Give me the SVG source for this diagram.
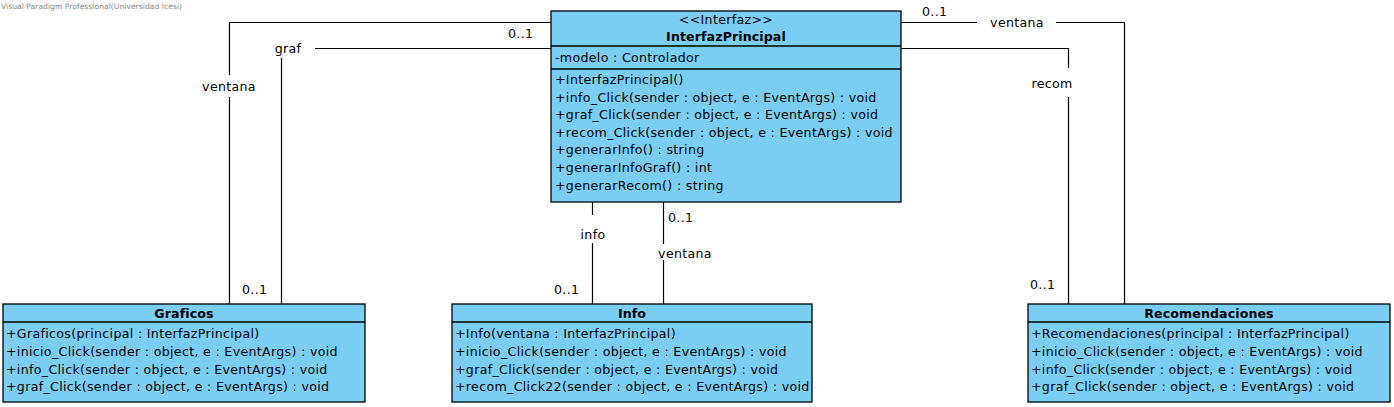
<svg xmlns="http://www.w3.org/2000/svg" width="1394" height="407" viewBox="0 0 1394 407">
<style>
.box{fill:#7ACEF4;stroke:#000;stroke-width:1.3}
.div{stroke:#000;stroke-width:1.3}
.t{font-family:"DejaVu Sans",sans-serif;font-size:12.6px;fill:#000;letter-spacing:0.32px}
.b{font-weight:bold;text-anchor:middle;letter-spacing:0.1px}
.c{text-anchor:middle}
.ln{fill:none;stroke:#000;stroke-width:1.2}
.wm{font-family:"DejaVu Sans",sans-serif;font-size:7.5px;fill:#888}
</style>
<rect width="1394" height="407" fill="#fff"/>
<text class="wm" x="1" y="9" textLength="181" lengthAdjust="spacingAndGlyphs">Visual Paradigm Professional(Universidad Icesi)</text>

<g id="connectors">
  <!-- Graficos ventana -->
  <path class="ln" d="M229.5,304 V97 M229.5,75 V22.5 H551"/>
  <text class="t c" x="229" y="91">ventana</text>
  <!-- Graficos graf -->
  <path class="ln" d="M281.5,304 V58 M315,48.5 H551"/>
  <text class="t c" x="288" y="53">graf</text>
  <text class="t" x="508" y="38">0..1</text>
  <text class="t" x="242" y="294">0..1</text>
  <!-- Recomendaciones ventana -->
  <path class="ln" d="M901,22.5 H977 M1056,22.5 H1124.5 V304"/>
  <text class="t c" x="1017" y="27">ventana</text>
  <text class="t" x="922" y="16">0..1</text>
  <!-- Recomendaciones recom -->
  <path class="ln" d="M901,48.5 H1068.5 V68 M1068.5,97 V304"/>
  <text class="t c" x="1052" y="88">recom</text>
  <text class="t" x="1030" y="289">0..1</text>
  <!-- Info info -->
  <path class="ln" d="M592.5,202 V215 M592.5,243 V304"/>
  <text class="t c" x="593" y="239">info</text>
  <text class="t" x="554" y="294">0..1</text>
  <!-- Info ventana -->
  <path class="ln" d="M663.5,202 V244 M663.5,260 V304"/>
  <text class="t c" x="685" y="258">ventana</text>
  <text class="t" x="668" y="222">0..1</text>
</g>

<g id="InterfazPrincipal">
  <rect class="box" x="551" y="11" width="350" height="191"/>
  <line class="div" x1="551" y1="46" x2="901" y2="46"/>
  <line class="div" x1="551" y1="69" x2="901" y2="69"/>
  <text class="t c" x="726" y="24">&lt;&lt;Interfaz&gt;&gt;</text>
  <text class="t b" x="726" y="41">InterfazPrincipal</text>
  <text class="t" x="555" y="62">-modelo : Controlador</text>
  <text class="t" x="555" y="84">+InterfazPrincipal()</text>
  <text class="t" x="555" y="101.6">+info_Click(sender : object, e : EventArgs) : void</text>
  <text class="t" x="555" y="119.2">+graf_Click(sender : object, e : EventArgs) : void</text>
  <text class="t" x="555" y="136.8">+recom_Click(sender : object, e : EventArgs) : void</text>
  <text class="t" x="555" y="154.4">+generarInfo() : string</text>
  <text class="t" x="555" y="172">+generarInfoGraf() : int</text>
  <text class="t" x="555" y="189.6">+generarRecom() : string</text>
</g>

<g id="Graficos">
  <rect class="box" x="3" y="304" width="362" height="98"/>
  <line class="div" x1="3" y1="322" x2="365" y2="322"/>
  <text class="t b" x="184" y="318">Graficos</text>
  <text class="t" x="6" y="338">+Graficos(principal : InterfazPrincipal)</text>
  <text class="t" x="6" y="355.8">+inicio_Click(sender : object, e : EventArgs) : void</text>
  <text class="t" x="6" y="373.6">+info_Click(sender : object, e : EventArgs) : void</text>
  <text class="t" x="6" y="391.4">+graf_Click(sender : object, e : EventArgs) : void</text>
</g>

<g id="Info">
  <rect class="box" x="452" y="304" width="360" height="98"/>
  <line class="div" x1="452" y1="322" x2="812" y2="322"/>
  <text class="t b" x="632" y="318">Info</text>
  <text class="t" x="455" y="338">+Info(ventana : InterfazPrincipal)</text>
  <text class="t" x="455" y="355.8">+inicio_Click(sender : object, e : EventArgs) : void</text>
  <text class="t" x="455" y="373.6">+graf_Click(sender : object, e : EventArgs) : void</text>
  <text class="t" x="455" y="391.4">+recom_Click22(sender : object, e : EventArgs) : void</text>
</g>

<g id="Recomendaciones">
  <rect class="box" x="1028" y="304" width="362" height="98"/>
  <line class="div" x1="1028" y1="322" x2="1390" y2="322"/>
  <text class="t b" x="1209" y="318">Recomendaciones</text>
  <text class="t" x="1031" y="338">+Recomendaciones(principal : InterfazPrincipal)</text>
  <text class="t" x="1031" y="355.8">+inicio_Click(sender : object, e : EventArgs) : void</text>
  <text class="t" x="1031" y="373.6">+info_Click(sender : object, e : EventArgs) : void</text>
  <text class="t" x="1031" y="391.4">+graf_Click(sender : object, e : EventArgs) : void</text>
</g>
</svg>
